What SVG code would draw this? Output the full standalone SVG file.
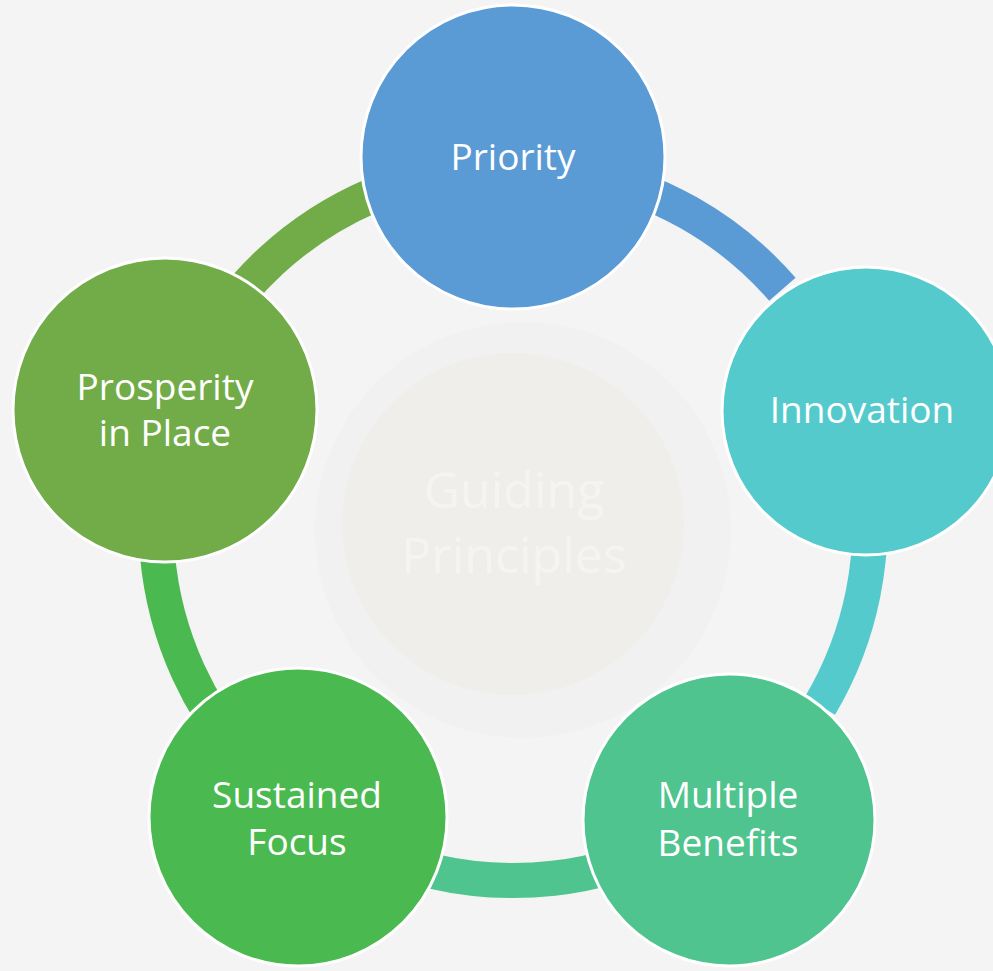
<svg xmlns="http://www.w3.org/2000/svg" width="993" height="971" viewBox="0 0 993 971">
  <style>
    .arc { fill: none; stroke-width: 35; stroke-linecap: butt; }
    .node { stroke: #ffffff; stroke-width: 3; }
    .lbl { font-family: "Open Sans", "Noto Sans", "Liberation Sans", sans-serif; font-size: 37px; fill: #ffffff; text-anchor: middle; }
    .center { font-family: "Open Sans", "Noto Sans", "Liberation Sans", sans-serif; font-size: 50px; fill: #f4f4f2; text-anchor: middle; }
  </style>
  <rect width="993" height="971" fill="#f4f4f4"/>
  <g id="center">
    <circle cx="523" cy="530" r="208" fill="#f1f1f1"/>
    <circle cx="513" cy="524" r="171" fill="#efeeeb"/>
    <text class="center" x="514" y="508">Guiding</text>
    <text class="center" x="514" y="573">Principles</text>
  </g>
  <g id="connectors">
    <path class="arc" stroke="#5b9bd5" d="M575.0,171.9 A357,357 0 0 1 782.4,289.3"/>
    <path class="arc" stroke="#55cacc" d="M866.5,473.8 A357,357 0 0 1 820.0,705.8"/>
    <path class="arc" stroke="#4fc48e" d="M669.5,844.4 A357,357 0 0 1 432.7,871.4"/>
    <path class="arc" stroke="#4aba50" d="M256.2,771.5 A357,357 0 0 1 157.4,554.6"/>
    <path class="arc" stroke="#71ac48" d="M197.8,355.9 A357,357 0 0 1 371.8,195.6"/>
  </g>
  <g id="priority">
    <circle class="node" cx="513" cy="157" r="152" fill="#5b9bd5"/>
    <text class="lbl" x="513" y="170">Priority</text>
  </g>
  <g id="innovation">
    <circle class="node" cx="866" cy="411" r="144" fill="#55cacc"/>
    <text class="lbl" x="862" y="423">Innovation</text>
  </g>
  <g id="multiple-benefits">
    <circle class="node" cx="729" cy="820" r="146" fill="#4fc48e"/>
    <text class="lbl" x="728" y="808">Multiple</text>
    <text class="lbl" x="728" y="856">Benefits</text>
  </g>
  <g id="sustained-focus">
    <circle class="node" cx="298" cy="817" r="149" fill="#4aba50"/>
    <text class="lbl" x="297" y="808">Sustained</text>
    <text class="lbl" x="297" y="855">Focus</text>
  </g>
  <g id="prosperity-in-place">
    <circle class="node" cx="165" cy="410" r="152" fill="#71ac48"/>
    <text class="lbl" x="165" y="400">Prosperity</text>
    <text class="lbl" x="165" y="446">in Place</text>
  </g>
</svg>
